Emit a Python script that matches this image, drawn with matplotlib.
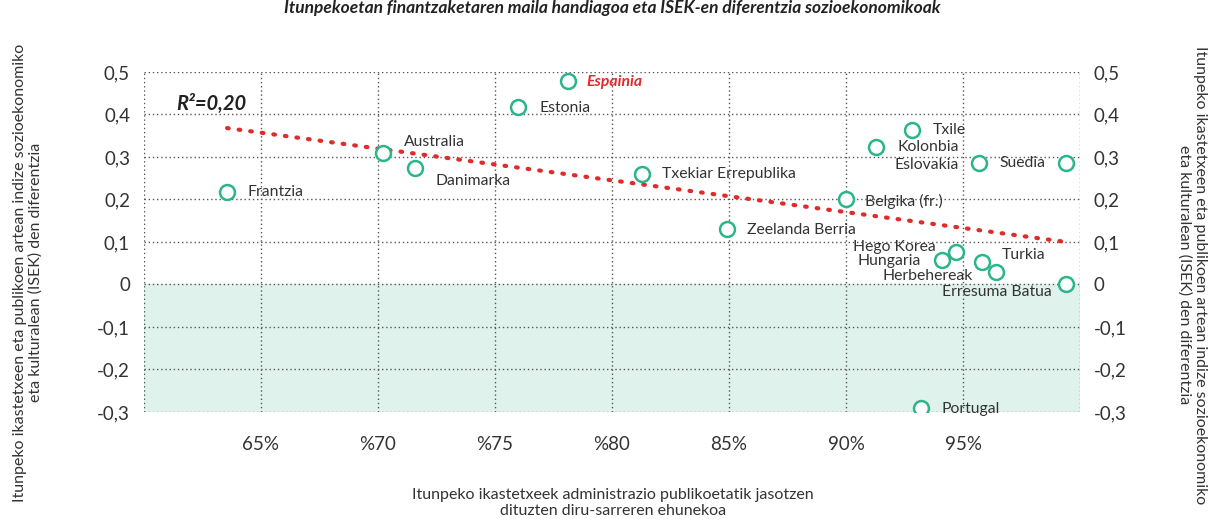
import matplotlib
matplotlib.use("Agg")
import matplotlib.pyplot as plt

plt.rcParams['font.family'] = ['Lato', 'DejaVu Sans']

# data
countries = ["Frantzia", "Australia", "Danimarka", "Estonia", "Espainia",
             "Txekiar Errepublika", "Zeelanda Berria", "Belgika (fr.)", "Txile",
             "Kolonbia", "Eslovakia", "Suedia", "Hego Korea", "Hungaria",
             "Turkia", "Herbehereak", "Erresuma Batua", "Portugal"]
funding_pct = [63.55, 70.2, 71.6, 76.0, 78.1, 81.3, 84.9, 90.0, 92.8,
               91.3, 95.7, 99.4, 94.7, 94.1, 95.8, 96.4, 99.4, 93.2]
isek_diff = [0.218, 0.309, 0.274, 0.418, 0.479, 0.260, 0.130, 0.200, 0.364,
             0.324, 0.286, 0.286, 0.077, 0.058, 0.053, 0.030, 0.001, -0.290]

trend_x = [63.55, 99.4]
trend_y = [0.368, 0.100]

x_ticks = [65, 70, 75, 80, 85, 90, 95]
x_ticklabels = ["65%", "%70", "%75", "%80", "85%", "90%", "95%"]
y_ticks = [-0.3, -0.2, -0.1, 0, 0.1, 0.2, 0.3, 0.4, 0.5]
y_ticklabels = ["-0,3", "-0,2", "-0,1", "0", "0,1", "0,2", "0,3", "0,4", "0,5"]

# label placement (pixel offsets, alignment)
label_pos = {
    "Frantzia": (20, 0, "left"), "Australia": (21, 11, "left"),
    "Danimarka": (20, -13, "left"), "Estonia": (21, -1, "left"),
    "Espainia": (19, -1, "left"), "Txekiar Errepublika": (20, 0, "left"),
    "Zeelanda Berria": (20, -1, "left"), "Belgika (fr.)": (19, -2, "left"),
    "Txile": (21, 0, "left"), "Kolonbia": (21, 0, "left"),
    "Eslovakia": (-21, -2, "right"), "Suedia": (-21, 0, "right"),
    "Hego Korea": (-20, 5, "right"), "Hungaria": (-21, -1, "right"),
    "Turkia": (20, 7, "left"), "Herbehereak": (-23, -4, "right"),
    "Erresuma Batua": (-14, -8, "right"), "Portugal": (21, -1, "left"),
}

green = "#2bb58a"
red = "#e02b2b"
text_col = "#333333"

fig = plt.figure(figsize=(12.13, 5.19), dpi=100)
ax = fig.add_axes([0.1187, 0.2062, 0.7717, 0.6551])

ax.set_xlim(60, 100)
ax.set_ylim(-0.3, 0.5)
ax.axhspan(-0.3, 0, color="#e0f2ec", zorder=0)

grid_kw = dict(color="#555555", lw=1, ls=(0, (1, 2)), zorder=1)
for gx in range(60, 101, 5):
    ax.axvline(gx, **grid_kw)
for gy in y_ticks:
    ax.axhline(gy, **grid_kw)

for s in ax.spines.values():
    s.set_visible(False)

ax.plot(trend_x, trend_y, color=red, lw=3, ls=(0, (0.4, 2.4)),
        dash_capstyle="round", zorder=2)

ax.scatter(funding_pct, isek_diff, s=115, facecolor="white", edgecolor=green,
           linewidth=1.8, zorder=3)

for name, x, y in zip(countries, funding_pct, isek_diff):
    dx, dy, ha = label_pos[name]
    if name == "Espainia":
        kw = dict(color=red, fontweight="bold", fontstyle="italic")
    else:
        kw = dict(color=text_col)
    ax.annotate(name, (x, y), xytext=(dx, dy), textcoords="offset pixels",
                ha=ha, va="center", fontsize=11.3, zorder=4, **kw)

ax.text(0.034, 0.905, "R²=0,20", transform=ax.transAxes, fontsize=14.5,
        fontweight="bold", fontstyle="italic", color="#222222", va="center")

ax.set_xticks(x_ticks)
ax.set_xticklabels(x_ticklabels, fontsize=13.5, color=text_col)
ax.set_yticks(y_ticks)
ax.set_yticklabels(y_ticklabels, fontsize=13.5, color=text_col)
ax.tick_params(axis="both", length=0)
ax.tick_params(axis="x", pad=17)
ax.tick_params(axis="y", pad=10, labelright=True)

ylab = ("Itunpeko ikastetxeen eta publikoen artean indize sozioekonomiko\n"
        "eta kulturalean (ISEK) den diferentzia")
fig.text(0.023, 0.475, ylab, rotation=90, ha="center", va="center",
         fontsize=11.5, color=text_col, linespacing=1.1)
fig.text(0.983, 0.47, ylab, rotation=-90, ha="center", va="center",
         fontsize=11.5, color=text_col, linespacing=1.1)

fig.text(0.505, 0.031, "Itunpeko ikastetxeek administrazio publikoetatik jasotzen\n"
         "dituzten diru-sarreren ehunekoa", ha="center", va="center",
         fontsize=11.5, color=text_col, linespacing=1.15)

fig.text(0.505, 0.975, "Itunpekoetan finantzaketaren maila handiagoa eta ISEK-en diferentzia sozioekonomikoak",
         ha="center", va="baseline", fontsize=12.5, fontweight="bold",
         fontstyle="italic", color="#222222")

fig.savefig("out.png", dpi=100)
